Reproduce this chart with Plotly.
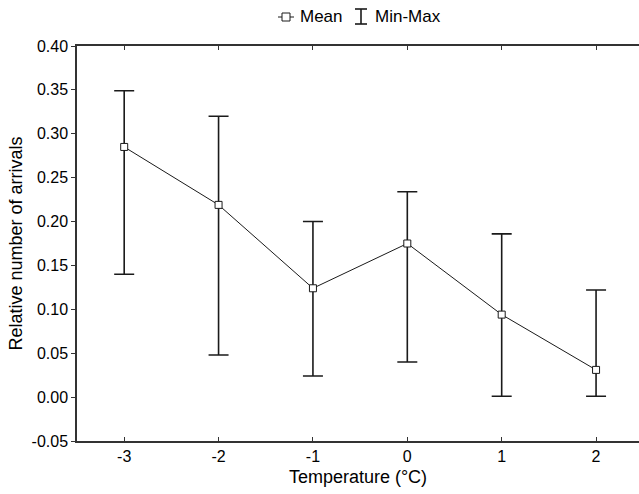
import plotly.graph_objects as go

temperature = [-3, -2, -1, 0, 1, 2]
mean_vals = [0.285, 0.219, 0.124, 0.175, 0.094, 0.031]
min_vals = [0.140, 0.048, 0.024, 0.040, 0.001, 0.001]
max_vals = [0.349, 0.320, 0.200, 0.234, 0.186, 0.122]
y_ticks = [-0.05, 0.00, 0.05, 0.10, 0.15, 0.20, 0.25, 0.30, 0.35, 0.40]
x_ticks = [-3, -2, -1, 0, 1, 2]

err_plus = [mx - m for mx, m in zip(max_vals, mean_vals)]
err_minus = [m - mn for mn, m in zip(min_vals, mean_vals)]

W, H = 639, 494
L, R, T, B = 77, 0, 46, 53
pw, ph = W - L - R, H - T - B

def px(x):
    return (x - L) / pw

def py(y):
    return (H - B - y) / ph

font = "Liberation Sans, Arial, sans-serif"
ink = "#1a1a1a"

fig = go.Figure()
fig.add_trace(go.Scatter(
    x=temperature, y=mean_vals, mode="lines+markers", name="Mean",
    line=dict(color=ink, width=1),
    marker=dict(symbol="square", size=7, color="white", line=dict(color=ink, width=1)),
    error_y=dict(type="data", symmetric=False, array=err_plus, arrayminus=err_minus,
                 color=ink, thickness=1.6, width=10),
    showlegend=False,
))

shapes = []
shapes.append(dict(type="line", xref="paper", yref="paper", x0=px(278), x1=px(294), y0=py(17), y1=py(17),
                   line=dict(color=ink, width=1)))
shapes.append(dict(type="rect", xref="paper", yref="paper", x0=px(282), x1=px(290), y0=py(13), y1=py(21),
                   line=dict(color=ink, width=1), fillcolor="white"))
shapes.append(dict(type="line", xref="paper", yref="paper", x0=px(361), x1=px(361), y0=py(9), y1=py(24),
                   line=dict(color=ink, width=1.6)))
shapes.append(dict(type="line", xref="paper", yref="paper", x0=px(355), x1=px(367), y0=py(9), y1=py(9),
                   line=dict(color=ink, width=1.6)))
shapes.append(dict(type="line", xref="paper", yref="paper", x0=px(355), x1=px(367), y0=py(24), y1=py(24),
                   line=dict(color=ink, width=1.6)))

annotations = [
    dict(text="Mean", xref="paper", yref="paper", x=px(298), y=py(16), xanchor="left", yanchor="middle",
         showarrow=False, font=dict(family=font, size=17, color="black")),
    dict(text="Min-Max", xref="paper", yref="paper", x=px(373), y=py(16), xanchor="left", yanchor="middle",
         showarrow=False, font=dict(family=font, size=17, color="black")),
]

fig.update_layout(
    width=W, height=H,
    margin=dict(l=L, r=R, t=T, b=B, autoexpand=False),
    plot_bgcolor="white", paper_bgcolor="white",
    font=dict(family=font, size=16, color="black"),
    shapes=shapes, annotations=annotations,
)
fig.update_xaxes(
    range=[-3.5, 2.455], tickvals=x_ticks, ticktext=[str(t) for t in x_ticks],
    showline=True, linecolor="#333", linewidth=1.5, mirror="ticks",
    ticks="inside", ticklen=4, tickcolor="#333", tickwidth=1,
    showgrid=False, zeroline=False,
    title=dict(text="Temperature (°C)", font=dict(size=18), standoff=6),
)
fig.update_yaxes(
    range=[-0.05, 0.40], tickvals=y_ticks, ticktext=[f"{t:.2f}" for t in y_ticks],
    showline=True, linecolor="#333", linewidth=1.5, mirror=False,
    ticks="outside", ticklen=4, tickcolor="#333", tickwidth=1,
    showgrid=False, zeroline=False,
    title=dict(text="Relative number of arrivals", font=dict(size=18), standoff=4),
)

fig.write_html(
    "out.html",
    config={"displayModeBar": False},
    post_script="document.body.style.margin='0';document.documentElement.style.overflow='hidden';",
)
